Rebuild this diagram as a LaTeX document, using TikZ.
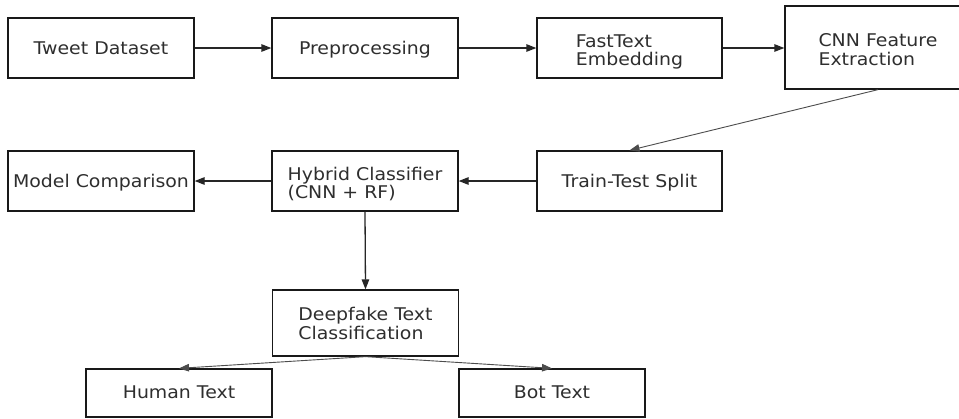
\documentclass[tikz,border=0pt]{standalone}
\usepackage{fontspec}
\setmainfont[FakeStretch=1.08]{DejaVu Sans}
\usetikzlibrary{arrows.meta}
\newcommand\lowtxt[2]{\raisebox{-#1}[\height][\depth]{\begin{tabular}{@{}l@{}}#2\end{tabular}}}
\tikzset{
  box/.style={draw=black!90, line width=1.3pt, minimum width=186pt, minimum height=60pt, inner sep=0pt,
    font=\fontsize{17.5}{17}\selectfont, text=black!82},
  conn/.style={line width=1.3pt, draw=black!85, -{Triangle[length=10pt,width=7.5pt]}},
  thin/.style={line width=0.9pt, draw=black!70, -{Triangle[length=10pt,width=7.5pt]}}
}
\begin{document}
\begin{tikzpicture}[x=1pt,y=1pt]
\useasboundingbox (0,0) rectangle (959,-418);
\fill[white] (0,0) rectangle (959,-418);
\node[box] (tweet) at (101,-48) {\lowtxt{2.5pt}{Tweet Dataset}};
\node[box] (prep) at (365,-48) {\lowtxt{2.5pt}{Preprocessing}};
\node[box, minimum width=185pt] (fast) at (629.5,-48) {\lowtxt{4.5pt}{FastText\\Embedding}};
\node[box, minimum height=83pt] (cnn) at (878,-47.5) {\lowtxt{4.5pt}{CNN Feature\\Extraction}};
\node[box] (model) at (101,-181) {\lowtxt{2pt}{Model Comparison}};
\node[box] (hybrid) at (365,-181) {\lowtxt{4.5pt}{Hybrid Classifier\\(CNN + RF)}};
\node[box, minimum width=185pt] (tts) at (629.5,-181) {\lowtxt{2pt}{Train-Test Split}};
\node[box, minimum height=66pt] (deep) at (365.5,-323) {\lowtxt{3pt}{Deepfake Text\\Classification}};
\node[box, minimum height=48pt] (human) at (179,-393) {\lowtxt{2pt}{Human Text}};
\node[box, minimum height=48pt] (bot) at (552,-393) {\lowtxt{2pt}{Bot Text}};
\draw[conn] (tweet) -- (prep);
\draw[conn] (prep) -- (fast);
\draw[conn] (fast) -- (cnn.west |- fast.east);
\draw[thin] (cnn.south) -- (tts.north);
\draw[conn] (tts) -- (hybrid);
\draw[conn] (hybrid) -- (model);
\draw[conn] (hybrid.south) -- (deep.north);
\draw[thin] (deep.south) -- (human.north);
\draw[thin] (deep.south) -- (bot.north);
\end{tikzpicture}
\end{document}
